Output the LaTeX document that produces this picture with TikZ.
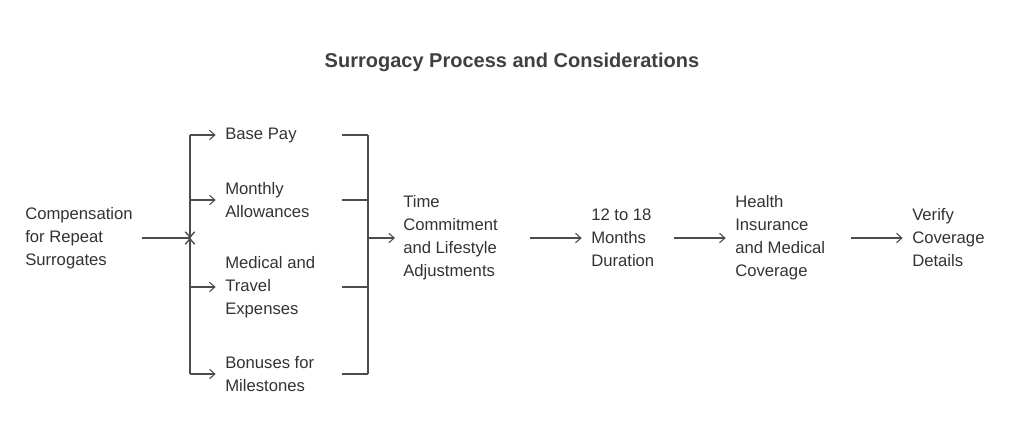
\documentclass[tikz,border=0pt]{standalone}
\usepackage{fontspec}
\setmainfont{Liberation Sans}
\usetikzlibrary{arrows.meta,positioning}
\tikzset{
	item/.style={anchor=west, align=left, inner sep=0pt, text=black!80, font=\fontsize{12.5}{17.25}\selectfont},
	link/.style={draw=black!70, line width=0.8pt},
	arr/.style={link, -{Straight Barb[length=4pt,width=7pt]}},
}
\begin{document}
	\begin{tikzpicture}[x=0.75pt, y=-0.75pt]
		\useasboundingbox (0,0) rectangle (1024,443);
		\node[font=\bfseries\fontsize{15}{18}\selectfont, text=black!75] (title) at (512,62) {Surrogacy Process and Considerations};
		\node[item] (comp) at (25,238) {Compensation\\for Repeat\\Surrogates};
		\node[item] (base) at (225,135) {Base Pay};
		\node[item] (allow) at (225,200) {Monthly\\Allowances};
		\node[item] (travel) at (225,287) {Medical and\\Travel\\Expenses};
		\node[item] (bonus) at (225,374) {Bonuses for\\Milestones};
		\node[item] (time) at (403,238) {Time\\Commitment\\and Lifestyle\\Adjustments};
		\node[item] (dur) at (591,238) {12 to 18\\Months\\Duration};
		\node[item] (health) at (735,238) {Health\\Insurance\\and Medical\\Coverage};
		\node[item] (verify) at (912,238) {Verify\\Coverage\\Details};
		% split
		\coordinate (split) at (190,238);
		\draw[link] (comp.east) ++(9,0) -- (split);
		\foreach \n in {base, allow, travel, bonus} {
			\draw[arr] (split |- \n.west) -- ++(0,0) -| (split);
			\draw[arr] (split |- \n.west) -- ([xshift=-7pt]\n.west);
		}
		% merge
		\coordinate (merge) at (368,238);
		\foreach \n in {base, allow, travel, bonus} {
			\draw[link] (342,0 |- \n.west) -- (merge |- \n.west);
		}
		\draw[link] (merge |- base.west) -- (merge |- bonus.west);
		\draw[link] (split |- base.west) -- (split |- bonus.west);
		\draw[arr] (merge) -- ([xshift=-6pt]time.west);
		\draw[arr] (530,238) -- ([xshift=-7pt]dur.west);
		\draw[arr] (674,238) -- ([xshift=-7pt]health.west);
		\draw[arr] (851,238) -- ([xshift=-7pt]verify.west);
	\end{tikzpicture}
\end{document}
